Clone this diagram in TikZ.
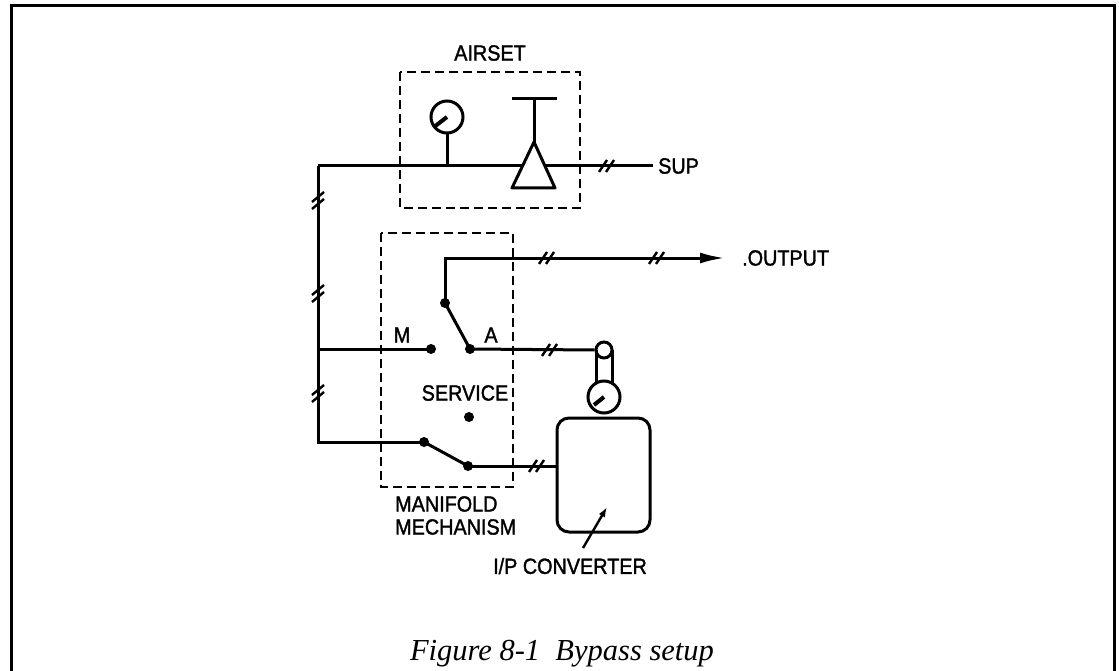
\documentclass[tikz,border=0pt]{standalone}
\usepackage{fontspec}
\setmainfont{Liberation Serif}
\newfontfamily\lab{Liberation Sans}[FakeBold=1.5, FakeStretch=0.9]
\usetikzlibrary{arrows.meta}
\tikzset{
  wire/.style={line width=3pt},
  dbox/.style={line width=2.6pt, dash pattern=on 9pt off 5pt},
  pdot/.style={circle, fill=black, inner sep=0pt, minimum size=10pt},
  lbl/.style={font=\lab\fontsize{22}{24}\selectfont, inner sep=0pt},
  hslash/.pic={\draw[line width=2.4pt] (-8,6)--(0,-6) (-1,6)--(7,-6);},
  vslash/.pic={\draw[line width=2.4pt] (-6,2)--(6,-8) (-6,9)--(6,-1);},
}
\begin{document}
\begin{tikzpicture}[x=1pt,y=-1pt]
\useasboundingbox (0,0) rectangle (1119,671);
% frame
\draw[line width=3pt] (11,671) -- (11,6) -- (1114.5,6) -- (1114.5,671);
% caption
\node[anchor=base, font=\itshape\fontsize{30.5}{32}\selectfont, inner sep=0pt] (cap) at (562,660) {Figure 8-1\ \ Bypass setup};

% AIRSET
\draw[dbox] (400,72) rectangle (580,208);
\node[lbl] (airset) at (490,53) {AIRSET};
\coordinate (supL) at (318,166);
\coordinate (supR) at (653,166);
\node[lbl, anchor=west] (sup) at (658,166) {SUP};
\draw[wire] (supR) -- (supL);
% airset gauge
\node[circle, draw, line width=3pt, minimum size=32pt, inner sep=0pt] (g1) at (447,117) {};
\draw[wire] (g1.south) -- (447,166);
\draw[line width=4pt] (g1.center) -- (434,127);
% regulator
\draw[wire] (512,99) -- (557,99);
\draw[wire] (534,99) -- (534,142);
\draw[wire, fill=white, line join=round] (534,142) -- (512,188) -- (555,188) -- cycle;
\pic at (607,166) {hslash};
\pic at (318,200) {vslash};

% MANIFOLD
\draw[dbox] (381,233) rectangle (513,487);
\node[pdot] (T) at (445,303) {};
\node[pdot] (Md) at (431,349) {};
\node[pdot] (Ad) at (470,349) {};
\node[pdot] (Sd) at (469,417) {};
\node[pdot] (Ld) at (424,442) {};
\node[pdot] (Rd) at (468,466) {};
\node[lbl] (M) at (402,335) {M};
\node[lbl] (A) at (491,335) {A};
\node[lbl] (serv) at (465,393) {SERVICE};
\node[lbl, anchor=west] (man1) at (395,504) {MANIFOLD};
\node[lbl, anchor=west] (man2) at (395,527) {MECHANISM};
\coordinate (Mleft) at (318,349);
\coordinate (Lleft) at (318,442);
\draw[wire] (supL) -- (Lleft) -- (Ld.center);
\draw[wire] (Mleft) -- (Md.center);
\draw[wire] (Ad.center) -- (T.center);
\draw[wire] (Ld.center) -- (Rd.center);
\pic at (318,293) {vslash};
\pic at (318,393) {vslash};

% OUTPUT
\coordinate (outC) at (445,258);
\coordinate (outE) at (725,258);
\draw[wire, -{Latex[length=25pt,width=11pt]}] (T.center) -- (outC) -- (outE);
\node[lbl, anchor=west] (out) at (742,258) {.OUTPUT};
\pic at (547,258) {hslash};
\pic at (657,258) {hslash};

% I/P gauge
\node[circle, draw, line width=3pt, minimum size=16pt, inner sep=0pt] (g2s) at (604,350) {};
\node[circle, draw, line width=3pt, minimum size=32pt, inner sep=0pt] (g2) at (604,397) {};
\draw[wire] (Ad.center) -- (g2s.west);
\draw[wire] (596,350) -- (596,383.5);
\draw[wire] (612,350) -- (612,383.5);
\draw[line width=4pt] (g2.center) -- (594,405);
\pic at (550,350) {hslash};

% I/P converter
\node[draw, line width=3pt, rounded corners=12pt, minimum width=93pt, minimum height=114pt, inner sep=0pt] (conv) at (603.5,475) {};
\draw[wire] (Rd.center) -- (conv.west |- Rd);
\pic at (537,466) {hslash};
\coordinate (arrS) at (583,548);
\coordinate (arrE) at (607,507);
\draw[line width=2.4pt, -{Latex[length=10pt,width=7pt]}] (arrS) -- (arrE);
\node[lbl] (ipc) at (570,566) {I/P CONVERTER};
\end{tikzpicture}
\end{document}
